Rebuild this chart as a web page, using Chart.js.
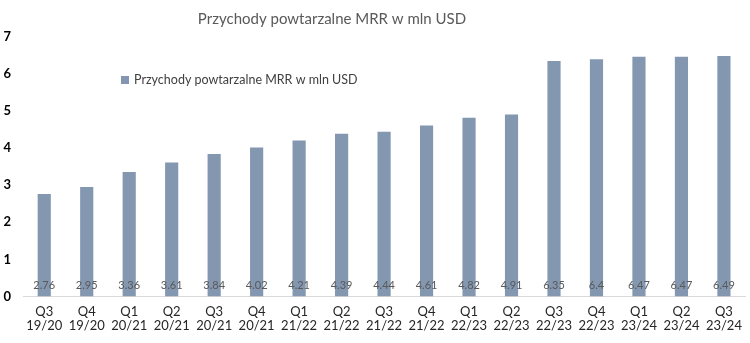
<!DOCTYPE html>
<html lang="pl">
<head>
  <meta charset="UTF-8" />
  <title>MRR</title>
  <script src="https://cdn.jsdelivr.net/npm/chart.js"></script>
  <style>
    html, body { margin: 0; padding: 0; background: #fff; }
    #wrap { width: 750px; height: 343px; }
  </style>
</head>
<body>
  <div id="wrap"><canvas id="mrrChart"></canvas></div>
  <script>
    // quarters (fiscal year)
    const quarters = ['Q3','Q4','Q1','Q2','Q3','Q4','Q1','Q2','Q3','Q4','Q1','Q2','Q3','Q4','Q1','Q2','Q3'];
    const years = ['19/20','19/20','20/21','20/21','20/21','20/21','21/22','21/22','21/22','21/22','22/23','22/23','22/23','22/23','23/24','23/24','23/24'];
    const mrr = [2.76, 2.95, 3.36, 3.61, 3.84, 4.02, 4.21, 4.39, 4.44, 4.61, 4.82, 4.91, 6.35, 6.4, 6.47, 6.47, 6.49];
    const yTicks = [0, 1, 2, 3, 4, 5, 6, 7];

    const chartTitle = 'Przychody powtarzalne MRR w mln USD';
    const seriesName = 'Przychody powtarzalne MRR w mln USD';
    const barColor = '#8497b0';
    const fontFamily = 'Lato, "Open Sans", sans-serif';

    // title, legend and value labels are drawn by hand to sit where the original has them
    const extras = {
      id: 'extras',
      afterDatasetsDraw(chart) {
        const ctx = chart.ctx;
        ctx.save();
        // title
        ctx.font = '15px ' + fontFamily;
        ctx.fillStyle = '#595959';
        ctx.textAlign = 'center';
        ctx.textBaseline = 'middle';
        ctx.fillText(chartTitle, 332, 19);
        // legend
        ctx.fillStyle = barColor;
        ctx.fillRect(121, 76, 8, 8);
        ctx.font = '12.5px ' + fontFamily;
        ctx.fillStyle = '#404040';
        ctx.textAlign = 'left';
        ctx.fillText(seriesName, 134, 80);
        // value labels near the base of each bar
        const meta = chart.getDatasetMeta(0);
        const yBase = chart.scales.y.getPixelForValue(0);
        ctx.font = '11px ' + fontFamily;
        ctx.fillStyle = '#595959';
        ctx.textAlign = 'center';
        meta.data.forEach((bar, i) => {
          ctx.fillText(String(mrr[i]), bar.x, yBase - 11);
        });
        ctx.restore();
      }
    };

    new Chart(document.getElementById('mrrChart'), {
      type: 'bar',
      data: {
        labels: quarters.map((q, i) => [q, years[i]]),
        datasets: [{
          label: seriesName,
          data: mrr,
          backgroundColor: barColor,
          categoryPercentage: 1,
          barPercentage: 0.31
        }]
      },
      options: {
        responsive: true,
        maintainAspectRatio: false,
        animation: false,
        layout: { padding: { top: 37, right: 2, bottom: 2, left: 0 } },
        plugins: {
          legend: { display: false },
          title: { display: false },
          tooltip: { enabled: false }
        },
        scales: {
          x: {
            grid: { display: false, drawTicks: false },
            border: { display: true, color: '#d9d9d9', width: 1 },
            ticks: {
              color: '#262626',
              font: { family: fontFamily, size: 13, lineHeight: 1.1 },
              padding: 8,
              maxRotation: 0,
              autoSkip: false
            }
          },
          y: {
            min: 0,
            max: 7,
            afterBuildTicks: (axis) => { axis.ticks = yTicks.map(v => ({ value: v })); },
            afterFit: (axis) => { axis.width = 23; },
            grid: { display: false, drawTicks: false },
            border: { display: false },
            ticks: {
              color: '#000',
              font: { family: fontFamily, size: 13, weight: 'bold' },
              padding: 12
            }
          }
        }
      },
      plugins: [extras]
    });
  </script>
</body>
</html>
